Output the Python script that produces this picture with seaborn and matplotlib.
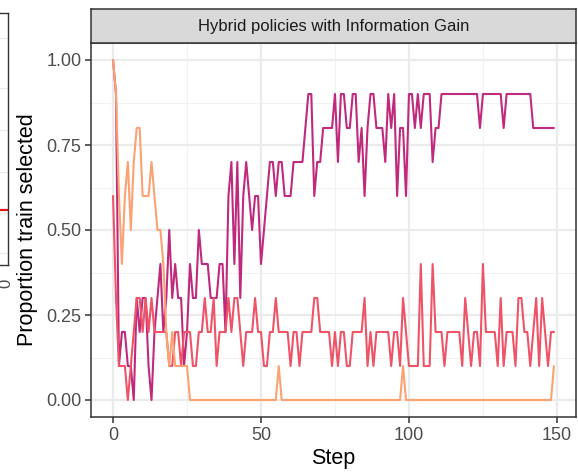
import numpy as np
import pandas as pd
import matplotlib
matplotlib.use("Agg")
import matplotlib.pyplot as plt
import seaborn as sns

steps = list(range(150))

series_names = ["IG hybrid A", "IG hybrid B", "IG hybrid C"]

magenta_vals = [
    1.0, 0.9, 0.1, 0.2, 0.2, 0.1, 0.1, 0.0, 0.3, 0.2,
    0.3, 0.3, 0.1, 0.0, 0.2, 0.3, 0.4, 0.2, 0.3, 0.5,
    0.3, 0.4, 0.3, 0.3, 0.1, 0.2, 0.4, 0.3, 0.3, 0.5,
    0.4, 0.4, 0.4, 0.3, 0.3, 0.3, 0.4, 0.4, 0.2, 0.6,
    0.7, 0.4, 0.7, 0.3, 0.6, 0.7, 0.6, 0.5, 0.6, 0.6,
    0.4, 0.5, 0.6, 0.7, 0.7, 0.6, 0.7, 0.7, 0.6, 0.6,
    0.6, 0.7, 0.7, 0.7, 0.7, 0.8, 0.9, 0.9, 0.6, 0.7,
    0.7, 0.8, 0.8, 0.8, 0.8, 0.9, 0.7, 0.9, 0.9, 0.8,
    0.8, 0.9, 0.9, 0.7, 0.8, 0.6, 0.8, 0.9, 0.9, 0.8,
    0.8, 0.8, 0.7, 0.9, 0.8, 0.9, 0.6, 0.8, 0.8, 0.6,
    0.9, 0.9, 0.8, 0.9, 0.8, 0.9, 0.9, 0.9, 0.7, 0.8,
    0.8, 0.9, 0.9, 0.9, 0.9, 0.9, 0.9, 0.9, 0.9, 0.9,
    0.9, 0.9, 0.9, 0.9, 0.8, 0.9, 0.9, 0.9, 0.9, 0.9,
    0.9, 0.9, 0.8, 0.9, 0.9, 0.9, 0.9, 0.9, 0.9, 0.9,
    0.9, 0.9, 0.8, 0.8, 0.8, 0.8, 0.8, 0.8, 0.8, 0.8,
]

coral_vals = [
    0.6, 0.3, 0.1, 0.1, 0.1, 0.0, 0.1, 0.2, 0.3, 0.3,
    0.2, 0.3, 0.2, 0.3, 0.2, 0.2, 0.2, 0.2, 0.2, 0.1,
    0.1, 0.2, 0.2, 0.1, 0.2, 0.2, 0.2, 0.1, 0.1, 0.2,
    0.2, 0.3, 0.2, 0.2, 0.3, 0.1, 0.2, 0.2, 0.2, 0.3,
    0.2, 0.3, 0.3, 0.2, 0.1, 0.2, 0.2, 0.2, 0.3, 0.2,
    0.2, 0.1, 0.1, 0.2, 0.2, 0.3, 0.2, 0.2, 0.2, 0.2,
    0.1, 0.2, 0.2, 0.1, 0.2, 0.2, 0.2, 0.2, 0.3, 0.3,
    0.2, 0.2, 0.2, 0.2, 0.1, 0.2, 0.1, 0.2, 0.2, 0.1,
    0.1, 0.2, 0.2, 0.2, 0.2, 0.3, 0.1, 0.2, 0.1, 0.2,
    0.2, 0.2, 0.2, 0.2, 0.1, 0.2, 0.2, 0.1, 0.3, 0.2,
    0.1, 0.1, 0.1, 0.1, 0.4, 0.1, 0.1, 0.1, 0.4, 0.2,
    0.2, 0.2, 0.1, 0.2, 0.2, 0.2, 0.2, 0.2, 0.1, 0.3,
    0.2, 0.1, 0.2, 0.2, 0.1, 0.4, 0.2, 0.2, 0.2, 0.2,
    0.1, 0.3, 0.1, 0.2, 0.2, 0.2, 0.1, 0.3, 0.3, 0.2,
    0.2, 0.1, 0.2, 0.3, 0.1, 0.3, 0.2, 0.1, 0.2, 0.2,
]

orange_vals = (
    [1.0, 0.9, 0.6, 0.4, 0.6, 0.7, 0.5, 0.7, 0.8, 0.8,
     0.6, 0.6, 0.6, 0.7, 0.6, 0.5, 0.5, 0.4, 0.2, 0.1,
     0.2, 0.1, 0.1, 0.1, 0.1, 0.1]
    + [0.0] * 30 + [0.1] + [0.0] * 41 + [0.1] + [0.0] * 50 + [0.1]
)

line_colors = ["#BF2A7D", "#EE5468", "#FBA272"]

y_ticks = [0.00, 0.25, 0.50, 0.75, 1.00]
y_tick_labels = ["0.00", "0.25", "0.50", "0.75", "1.00"]
x_ticks = [0, 50, 100, 150]
x_tick_labels = ["0", "50", "100", "150"]

panel_title = "Hybrid policies with Information Gain"
x_label = "Step"
y_label = "Proportion train selected"

df = pd.concat([
    pd.DataFrame({"Step": steps, "value": vals, "policy": name})
    for name, vals in zip(series_names, [magenta_vals, coral_vals, orange_vals])
], ignore_index=True)

sns.set_theme(style="white")
plt.rcParams["font.family"] = ["Liberation Sans", "DejaVu Sans"]

W, H = 578, 472
fig = plt.figure(figsize=(W / 100, H / 100), dpi=100)

def fx(px):
    return px / W

def fy(py):
    return 1 - py / H

# fragment of neighbouring panel on the far left
frag = fig.add_axes([fx(-120), fy(265), fx(128), fy(13) - fy(265)])
frag.set_xlim(0, 1)
frag.set_ylim(0, 1)
for gy in [38, 88, 130, 172, 213, 253]:
    frag.axhline((265 - gy) / 252, color="#EBEBEB", lw=0.8, zorder=0)
frag.plot([0.9, 1.0], [(265 - 210) / 252] * 2, color="#E41A1C", lw=1.6)
frag.set_xticks([])
frag.set_yticks([])
for s in frag.spines.values():
    s.set_color("#333333")
    s.set_linewidth(1.0)
fig.text(fx(6), fy(283), "0", rotation=90, ha="center", va="center",
         fontsize=12, color="#4D4D4D")

# main panel
ax = fig.add_axes([fx(91), fy(417), fx(576) - fx(91), fy(43) - fy(417)])
ax.set_facecolor("white")

minor_x = [25, 75, 125]
minor_y = [0.125, 0.375, 0.625, 0.875]
for v in minor_x:
    ax.axvline(v, color="#F2F2F2", lw=0.8, zorder=0)
for v in minor_y:
    ax.axhline(v, color="#F2F2F2", lw=0.8, zorder=0)
for v in x_ticks:
    ax.axvline(v, color="#EBEBEB", lw=1.6, zorder=0)
for v in y_ticks:
    ax.axhline(v, color="#EBEBEB", lw=1.6, zorder=0)

sns.lineplot(data=df, x="Step", y="value", hue="policy",
             palette=dict(zip(series_names, line_colors)),
             hue_order=series_names, lw=1.5, legend=False, ax=ax)

ax.set_xlim(-7.45, 156.45)
ax.set_ylim(-0.05, 1.05)
ax.set_xticks(x_ticks)
ax.set_xticklabels(x_tick_labels)
ax.set_yticks(y_ticks)
ax.set_yticklabels(y_tick_labels)
ax.tick_params(axis="both", which="major", length=4, width=1.1, color="#333333",
               labelsize=13, labelcolor="#4D4D4D", pad=3, direction="out",
               left=True, bottom=True)
ax.set_xlabel(x_label, fontsize=15.5, color="black", labelpad=3)
ax.set_ylabel(y_label, fontsize=15.5, color="black", labelpad=6)
for s in ax.spines.values():
    s.set_color("#333333")
    s.set_linewidth(1.1)
ax.grid(False)

# facet strip
strip = fig.add_axes([fx(91), fy(43), fx(576) - fx(91), fy(9) - fy(43)])
strip.set_facecolor("#D9D9D9")
strip.set_xticks([])
strip.set_yticks([])
for s in strip.spines.values():
    s.set_color("#333333")
    s.set_linewidth(1.1)
strip.text(0.5, 0.5, panel_title, ha="center", va="center",
           fontsize=12, color="#1A1A1A", transform=strip.transAxes)

fig.savefig("out.png", dpi=100)
